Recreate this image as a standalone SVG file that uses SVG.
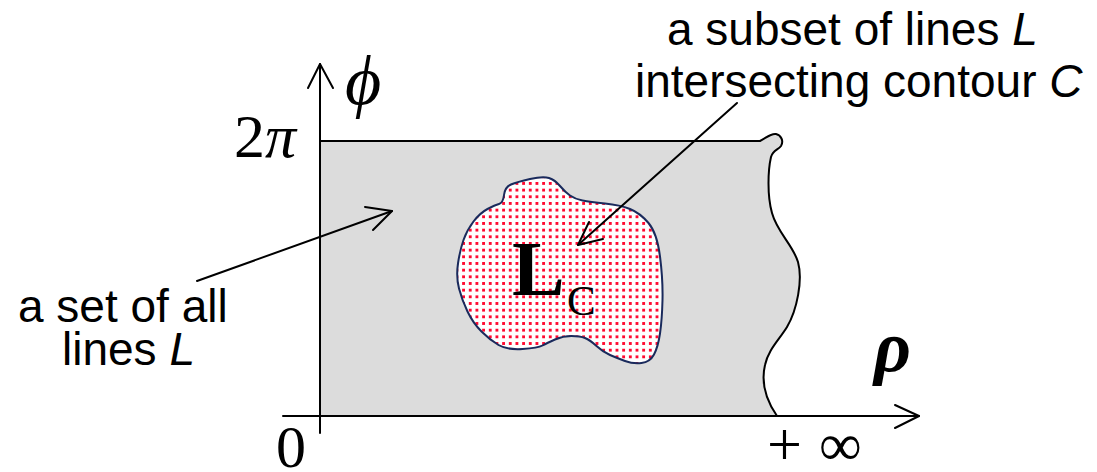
<svg xmlns="http://www.w3.org/2000/svg" width="1097" height="472" viewBox="0 0 1097 472">
<style>
.sans{font-family:"Liberation Sans",Arial,sans-serif;font-size:46px;fill:#000}
.serif{font-family:"Liberation Serif","Times New Roman",serif;fill:#000}
.ln{fill:none;stroke:#000;stroke-width:2;stroke-linecap:round;stroke-linejoin:round}
</style>
<defs>
<pattern id="dots" width="6.67" height="6.67" patternUnits="userSpaceOnUse">
<rect width="6.67" height="6.67" fill="#fff"/>
<rect x="1.5" y="1.5" width="3.2" height="3.2" fill="#ff0a30" shape-rendering="crispEdges"/>
</pattern>
</defs>
<g id="region">
<path d="M320,141 L760,141 C766,138 771,133 776,134 C781,135 784,141 781,146 C778,150 773,150 771,157 C768,170 767,195 772,213 C777,232 793,245 798,262 C803,280 797,310 787,327 C779,340 768,350 765,365 C761,382 766,400 777,416 L320,416 Z" fill="#dcdcdc"/>
<path class="ln" d="M320,141 L760,141 C766,138 771,133 776,134 C781,135 784,141 781,146 C778,150 773,150 771,157 C768,170 767,195 772,213 C777,232 793,245 798,262 C803,280 797,310 787,327 C779,340 768,350 765,365 C761,382 766,400 777,416"/>
</g>
<g id="subset">
<path d="M499,204 Q503,203 504,195 Q505,187 511,184.5 Q517,182 530,179 Q543,176 549,178 Q555,180 560,186 Q565,192 570,195.5 Q575,199 582.5,200.5 Q590,202 605,203.5 Q620,205 630,209 Q640,213 648.5,223 Q657,233 660,256.5 Q663,280 662.5,300 Q662,320 660,333.5 Q658,347 654,354.5 Q650,362 641.5,363 Q633,364 625,361 Q617,358 610,355 Q603,352 596.5,346 Q590,340 585,338 Q580,336 571.5,336 Q563,336 555,339.5 Q547,343 542.5,345.5 Q538,348 522.5,349 Q507,350 498.5,345 Q490,340 481.5,331.5 Q473,323 467.5,311.5 Q462,300 459,288.5 Q456,277 458,263.5 Q460,250 463.5,240 Q467,230 473.5,221.5 Q480,213 487.5,209 Q495,205 499,204 Z" fill="url(#dots)" stroke="#1a2a5c" stroke-width="2"/>
<text class="serif" x="512" y="295" font-size="79" font-weight="bold">L</text>
<text class="serif" x="567" y="315" font-size="43">C</text>
</g>
<g id="axes">
<line class="ln" x1="320" y1="433" x2="320" y2="64"/>
<polyline class="ln" points="308,88 320,64 333,88"/>
<line class="ln" x1="283" y1="416" x2="919" y2="416"/>
<polyline class="ln" points="895,405 919,416 895,428"/>
<text class="serif" x="345" y="104" font-size="70" font-style="italic">ϕ</text>
<text class="serif" x="234" y="157" font-size="62">2<tspan font-style="italic">π</tspan></text>
<text class="serif" x="276" y="467" font-size="60">0</text>
<text class="serif" x="767" y="465" font-size="62">+</text>
<text class="serif" x="819" y="465" font-size="60">∞</text>
<text class="serif" x="874" y="371" font-size="72" font-style="italic" font-weight="bold">ρ</text>
</g>
<g id="label-all">
<text class="sans" x="18" y="322">a set of all</text>
<text class="sans" x="62" y="365">lines <tspan font-style="italic">L</tspan></text>
</g>
<g id="label-subset">
<text class="sans" x="667" y="45" font-size="47">a subset of lines <tspan font-style="italic">L</tspan></text>
<text class="sans" x="635" y="97" font-size="47">intersecting contour <tspan font-style="italic">C</tspan></text>
</g>
<g id="connectors">
<line class="ln" x1="197" y1="281" x2="392" y2="211"/>
<polyline class="ln" points="365,207 392,211 373,230"/>
<line class="ln" x1="737" y1="103" x2="578" y2="245"/>
<polyline class="ln" points="589,222 578,245 603,239"/>
</g>
</svg>
